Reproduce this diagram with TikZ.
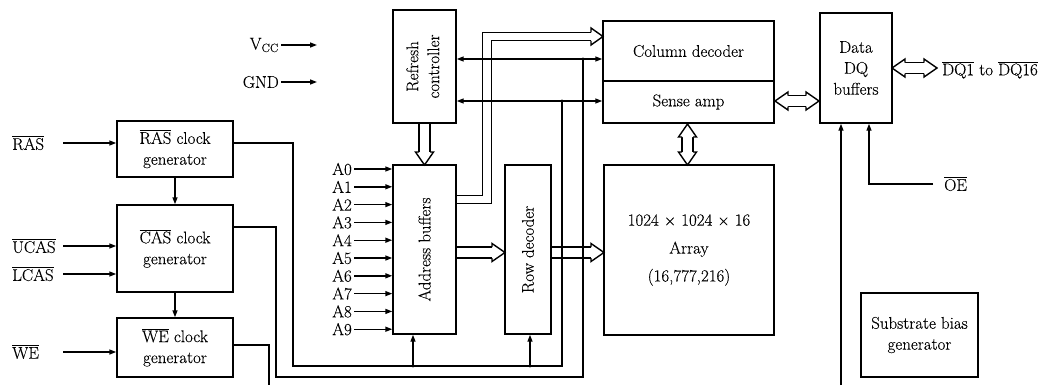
\documentclass[tikz,border=0pt]{standalone}
\usepackage{fontspec}
\setmainfont{Latin Modern Roman}[FakeBold=0.15]
\usepackage{graphicx}
\usepackage{tikz}
\usetikzlibrary{
  arrows.meta,
  positioning,
  backgrounds
}
\tikzset{
  every node/.style={inner sep=2pt}
}
\newcommand{\activelow}[1]{\ensuremath{\overline{\hbox{#1}}}}

\begin{document}
\begin{tikzpicture}[
    x=1bp, y=-1bp,
    font=\fontsize{17}{21}\selectfont,
    block/.style={rectangle, draw, line width=1.4bp, align=center, inner sep=0pt},
    wire/.style={line width=1.4bp},
    arrow/.style={-{Triangle[length=7bp, width=5bp]}, line width=1.4bp},
    twoway/.style={{Triangle[length=7bp, width=5bp]}-{Triangle[length=7bp, width=5bp]}, line width=1.4bp},
    bus/.style={double, double distance=9.6bp, line width=1.4bp},
    thinbus/.style={double, double distance=7.1bp, line width=1.4bp, line join=miter},
    bus head/.pic={\filldraw[fill=white, line width=1.4bp] (0,-5.5) -- (0,-9) -- (13,0) -- (0,9) -- (0,5.5);},
    thin head/.pic={\filldraw[fill=white, line width=1.4bp] (0,-4.25) -- (0,-8.5) -- (12,0) -- (0,8.5) -- (0,4.25);},
    dot/.style={fill, circle, inner sep=0pt, minimum size=3.2bp}
]
\useasboundingbox (0,0) rectangle (1052,385);

    % clock generators
    \node[block, minimum width=116bp, minimum height=56bp] (rasgen) at (175,149) {\activelow{RAS} clock\\generator};
    \node[block, minimum width=116bp, minimum height=87bp] (casgen) at (175,248.5) {\activelow{CAS} clock\\generator};
    \node[block, minimum width=116bp, minimum height=59bp] (wegen) at (175,347.5) {\activelow{WE} clock\\generator};

    \node[anchor=west] (ras) at (10,143) {\activelow{RAS}};
    \node[anchor=west] (ucas) at (10,246) {\activelow{UCAS}};
    \node[anchor=west] (lcas) at (10,274) {\activelow{LCAS}};
    \node[anchor=west] (we) at (10,352) {\activelow{WE}};

    % core blocks
    \node[block, minimum width=63bp, minimum height=113bp] (refresh) at (424.5,66.5)
        {\rotatebox{90}{\begin{tabular}{@{}c@{}}Refresh\\controller\end{tabular}}};
    \node[block, minimum width=63bp, minimum height=169bp] (addr) at (424.5,249.5)
        {\rotatebox{90}{Address buffers}};
    \node[block, minimum width=46bp, minimum height=169bp] (rowdec) at (528,249.5)
        {\rotatebox{90}{Row decoder}};
    \node[block, minimum width=170bp, minimum height=170bp] (array) at (689,250)
        {1024 × 1024 × 16\\[7bp]Array\\[7bp](16,777,216)};
    \node[block, minimum width=171bp, minimum height=60bp] (coldec) at (688.5,51) {Column decoder};
    \node[block, minimum width=171bp, minimum height=42bp] (senseamp) at (688.5,102) {Sense amp};
    \node[block, minimum width=72bp, minimum height=110bp] (dq) at (856,68) {Data\\DQ\\buffers};
    \node[block, minimum width=117bp, minimum height=84bp] (subbias) at (919.5,335) {Substrate bias\\generator};

    % supply and address inputs
    \node[anchor=east] (vcc) at (281,45) {V\textsubscript{CC}};
    \node[anchor=east] (gnd) at (281,82) {GND};
    \coordinate (vcc end) at (317,45);
    \coordinate (gnd end) at (317,82);

    \foreach \i in {0,...,9} {
        \node[anchor=east] (a\i) at (354,169+17.8*\i) {A\i};
    }

    \node[anchor=west] (dqpins) at (940,70) {\activelow{DQ1} to \activelow{DQ16}};
    \node[anchor=west] (oe) at (942,184) {\activelow{OE}};

    \coordinate (we out) at (269,385);
    \coordinate (dq in) at (841,385);

    \begin{scope}[on background layer]
    % buses
    \draw[bus] (refresh.south) -- ++(0,29);
    \pic[rotate=-90] at (424.5,152) {bus head};

    \draw[bus] (addr.east |- 0,252.5) -- (492,252.5);
    \pic at (492,252.5) {bus head};
    \draw[bus] (rowdec.east |- 0,252.5) -- (591,252.5);
    \pic at (591,252.5) {bus head};

    \draw[thinbus] (addr.east |- 0,199.5) -- (487,199.5) -- (487,36.5) -- (591,36.5);
    \pic at (591,36.5) {thin head};

    \draw[bus] (687.5,137) -- (687.5,152);
    \pic[rotate=90] at (687.5,137) {bus head};
    \pic[rotate=-90] at (687.5,152) {bus head};

    \draw[bus] (788,101) -- (806,101);
    \pic[rotate=180] at (788,101) {bus head};
    \pic at (806,101) {bus head};

    \draw[bus] (905,68) -- (924,68);
    \pic[rotate=180] at (905,68) {bus head};
    \pic at (924,68) {bus head};

    % control lines
    \draw[arrow] (ras.east -| 63,0) -- (rasgen.west |- ras.east);
    \draw[arrow] (ucas.east -| 63,0) -- (casgen.west |- ucas.east);
    \draw[arrow] (lcas.east -| 63,0) -- (casgen.west |- lcas.east);
    \draw[arrow] (we.east -| 63,0) -- (wegen.west |- we.east);
    \draw[arrow] (rasgen) -- (casgen);
    \draw[arrow] (casgen) -- (wegen);

    \draw[arrow] (vcc) -- (vcc end);
    \draw[arrow] (gnd) -- (gnd end);

    \foreach \i in {0,...,9} {
        \draw[arrow] (a\i.east) -- (addr.west |- a\i.east);
    }

    \draw[twoway] (refresh.east |- 0,59) -- (coldec.west |- 0,59);
    \draw[twoway] (refresh.east |- 0,101) -- (senseamp.west |- 0,101);

    \draw[wire] (rasgen.east |- 0,143) -| (293,366) -| (562,101);
    \draw[wire] (casgen.east |- 0,227) -| (276,377) -| (583,59);
    \draw[wire] (wegen.east |- 0,345) -| (we out);
    \draw[arrow] (413,366) -- (413,0 |- addr.south);
    \draw[arrow] (530,366) -- (530,0 |- rowdec.south);
    \node[dot] at (562,101) {};
    \node[dot] at (583,59) {};
    \node[dot] at (413,366) {};
    \node[dot] at (530,366) {};

    \draw[arrow] (dq in) -- (dq in |- dq.south);
    \draw[arrow] ([xshift=-9bp]oe.west) -| (869,0 |- dq.south);
    \end{scope}

\end{tikzpicture}
\end{document}
